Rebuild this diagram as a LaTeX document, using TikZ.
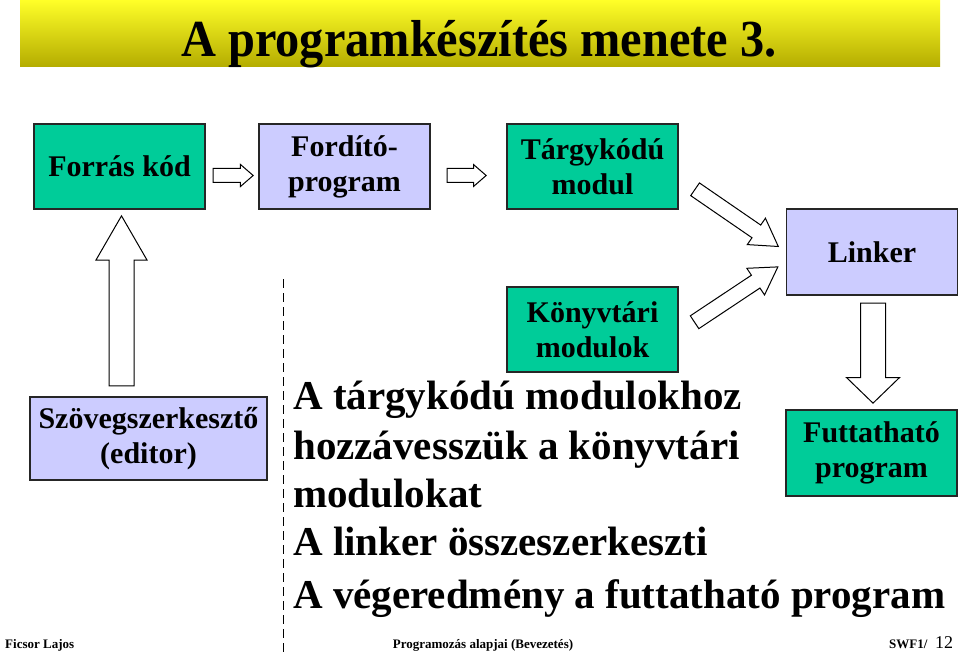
\documentclass[tikz,border=0pt]{standalone}
\usepackage{fontspec}
\setmainfont{Liberation Serif}
\usetikzlibrary{shapes.arrows,calc}
\definecolor{modgreen}{RGB}{0,204,153}
\definecolor{proglila}{RGB}{204,204,255}
\definecolor{titletop}{RGB}{255,255,40}
\definecolor{titlebot}{RGB}{180,172,0}
\tikzset{
  boxtext/.style={font=\fontsize{30}{35}\selectfont\bfseries},
  modbox/.style={draw=black!85, line width=1.3pt, fill=modgreen, minimum width=171pt, minimum height=85pt, inner sep=0pt, align=center, boxtext},
  progbox/.style={modbox, fill=proglila},
  hollow/.style n args={4}{single arrow, draw=black, fill=white, line width=1pt, anchor=tail, inner xsep=0pt,
    minimum width=1pt, minimum height=#1, inner ysep=#2, single arrow head extend=#3, single arrow tip angle=#4},
  titletext/.style={anchor=base, inner sep=0pt, font=\fontsize{52}{56}\selectfont\bfseries},
  bodytext/.style={anchor=base west, inner sep=0pt, font=\fontsize{41}{48}\selectfont\bfseries},
  foottext/.style={anchor=base west, inner sep=0pt, font=\fontsize{13}{15}\selectfont\bfseries}
}
\begin{document}
\begin{tikzpicture}[x=1pt,y=-1pt]
\useasboundingbox (0,0) rectangle (960,652);
% title band
\shade[top color=titletop, bottom color=titlebot] (20,0) rectangle (940,67);
\node[titletext] (title) at (479,57) {\scalebox{0.93}[1]{A programkészítés menete 3.}};
% boxes
\node[modbox] (src) at (119.5,166.5) {Forrás kód};
\node[progbox] (ford) at (344.5,166.5) {Fordító-\\program};
\node[modbox] (targy) at (592.5,166.5) {Tárgykódú\\modul};
\node[progbox, minimum height=86pt] (linker) at (872,252) {Linker};
\node[modbox] (konyv) at (592.5,329.5) {Könyvtári\\modulok};
\node[modbox, minimum height=86pt] (futt) at (871.5,453) {Futtatható\\program};
\node[progbox, minimum width=237pt, minimum height=83pt] (szov) at (148.5,438.5) {Szövegszerkesztő\\(editor)};
% hollow arrows
\node[hollow={40pt}{6.5pt}{4pt}{82}] (a1) at ($(src.east)+(7,9)$) {};
\node[hollow={39pt}{6.5pt}{4pt}{82}] (a2) at ($(ford.east)+(16,9)$) {};
\node[hollow={101pt}{7.2pt}{8.3pt}{62}, rotate=-34.5] (d1) at ($(targy.east)+(16,22.5)$) {};
\node[hollow={100pt}{7.2pt}{8.3pt}{62}, rotate=33.6] (d2) at ($(konyv.east)+(15.5,-7)$) {};
\node[hollow={170pt}{12pt}{13pt}{60}, rotate=90] (aup) at ($(src.south |- szov.north)+(2,-10)$) {};
\node[hollow={100pt}{12pt}{14pt}{92}, rotate=-90] (adn) at ($(linker.south)+(1,7)$) {};
% dashed separator
\coordinate (dtop) at (283,279);
\coordinate (dbot) at (283,652);
\draw[line width=0.9pt, dash pattern=on 9pt off 5pt] (dtop) -- (dbot);
% body text
\node[bodytext] (t1) at (293,409) {A tárgykódú modulokhoz};
\node[bodytext] (t2) at (293,459) {hozzávesszük a könyvtári};
\node[bodytext] (t3) at (293,507) {modulokat};
\node[bodytext] (t4) at (293,555) {A linker összeszerkeszti};
\node[bodytext] (t5) at (293,608) {A végeredmény a futtatható program};
% footer
\node[foottext] (fauthor) at (5,648) {Ficsor Lajos};
\node[foottext, anchor=base] (fcourse) at (483,648) {Programozás alapjai (Bevezetés)};
\node[foottext] (fcode) at (889,648) {SWF1/};
\node[foottext, font=\fontsize{18}{20}\selectfont] (fpage) at (935,648) {12};
\end{tikzpicture}
\end{document}
